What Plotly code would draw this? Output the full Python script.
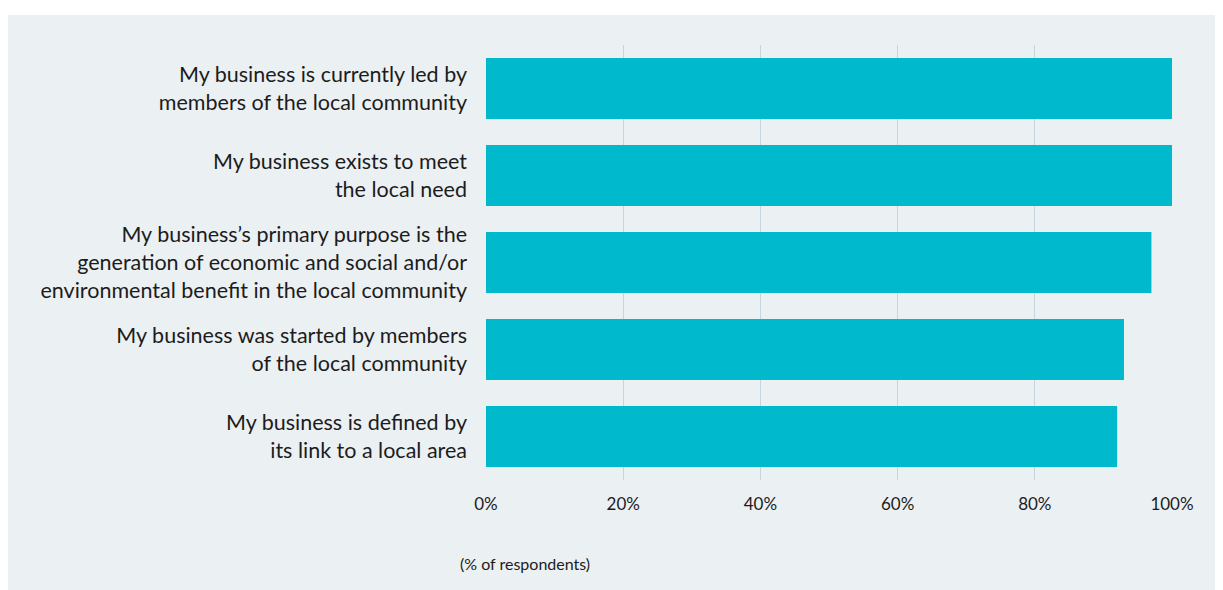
import plotly.graph_objects as go

categories = [
    "My business is currently led by<br>members of the local community",
    "My business exists to meet<br>the local need",
    "My business’s primary purpose is the<br>generation of economic and social and/or<br>environmental benefit in the local community",
    "My business was started by members<br>of the local community",
    "My business is defined by<br>its link to a local area",
]
values = [100, 100, 97, 93, 92]
x_ticks = [0, 20, 40, 60, 80, 100]
x_tick_labels = ["0%", "20%", "40%", "60%", "80%", "100%"]
axis_title = "(% of respondents)"

BG = "#ebf0f3"
BAR = "#00b9cc"
GRID = "#c6d4dd"
TEXT = "#1c1c1c"

W, H = 1223, 590
ML, MR, MT, MB = 478, 59, 37, 118
pw = W - ML - MR
ph = H - MT - MB

fig = go.Figure(go.Bar(
    x=values, y=categories, orientation="h",
    marker=dict(color=BAR, line=dict(width=0)),
    hoverinfo="skip",
))

# grey panel with a thin white strip on top
fig.add_shape(
    type="rect", xref="paper", yref="paper", layer="below",
    x0=(0 - ML) / pw, x1=(W - ML) / pw,
    y0=(MT + ph - H) / ph, y1=(MT + ph - 7) / ph,
    fillcolor=BG, line=dict(width=0),
)

fig.add_annotation(
    text=axis_title, xref="paper", yref="paper",
    x=(450 - ML) / pw, y=(MT + ph - 555) / ph,
    xanchor="left", yanchor="middle", showarrow=False,
    font=dict(family="Lato, sans-serif", size=16, color=TEXT),
)

fig.update_layout(
    width=W, height=H,
    margin=dict(l=ML, r=MR, t=MT, b=MB, pad=0),
    paper_bgcolor="white", plot_bgcolor="rgba(0,0,0,0)",
    bargap=0.3, showlegend=False,
    font=dict(family="Lato, sans-serif", color=TEXT),
    xaxis=dict(
        range=[0, 100], tickvals=x_ticks, ticktext=x_tick_labels,
        showgrid=True, gridcolor=GRID, gridwidth=1,
        zeroline=False, showline=False, ticks="",
        ticklabelstandoff=12,
        tickfont=dict(family="Lato, sans-serif", size=17, color=TEXT),
        fixedrange=True,
    ),
    yaxis=dict(
        categoryorder="array", categoryarray=categories[::-1],
        showgrid=False, zeroline=False, showline=False, ticks="",
        ticklabelstandoff=18,
        tickfont=dict(family="Lato, sans-serif", size=21.5, color=TEXT),
        fixedrange=True,
    ),
)

fig.write_html("out.html")
